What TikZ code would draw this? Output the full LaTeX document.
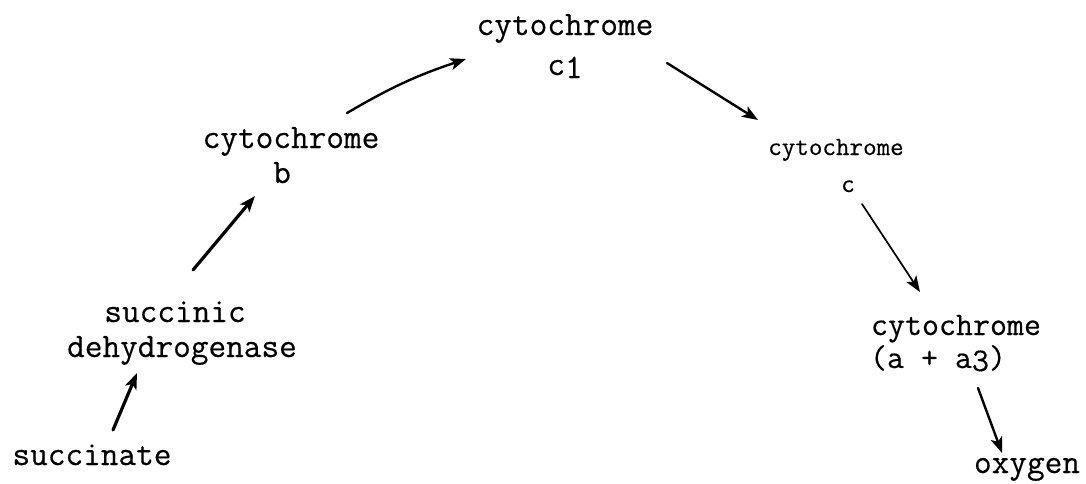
\documentclass[tikz,border=0pt]{standalone}
\usepackage{fontspec}
\newfontfamily\tw{Latin Modern Mono}[FakeBold=0.4]
\usetikzlibrary{arrows.meta,calc}
\newcommand{\lowr}[1]{\raisebox{-3pt}{#1}}
\tikzset{
  lbl/.style={inner sep=0pt, anchor=base, font=\tw\fontsize{34.3}{35}\selectfont},
  arr/.style={-{Stealth[length=16pt,width=12pt,inset=4pt]}, line width=2.4pt, line cap=round},
  thick arr/.style={arr, line width=3.2pt},
  thin arr/.style={arr, line width=1.7pt}
}
\begin{document}
\begin{tikzpicture}[x=1pt,y=-1pt]
\useasboundingbox (0,0) rectangle (1086,483);
\node[lbl] (succ) at (92,465) {succinate};
\node[lbl] (dehyd) at (182,322) {\begin{tabular}[t]{@{}c@{}}succinic\hspace*{14pt}\\dehydrogenase\end{tabular}};
\node[lbl] (cytb) at (291,148) {\begin{tabular}[t]{@{}c@{}}cytochrome\\b\hspace*{18pt}\end{tabular}};
\node[lbl, font=\tw\fontsize{34.3}{40}\selectfont] (cytc1) at (565,35) {\begin{tabular}[t]{@{}c@{}}cytochrome\\c\lowr{1}\end{tabular}};
\node[lbl, font=\tw\fontsize{26.3}{37}\selectfont] (cytc) at (836,155) {\begin{tabular}[t]{@{}c@{}}cytochrome\\\hspace*{24pt}c\end{tabular}};
\node[lbl, font=\tw\fontsize{33}{33}\selectfont] (cyta) at (956,335) {\begin{tabular}[t]{@{}c@{}}cytochrome\\(a + a\lowr{3})\hspace*{36pt}\end{tabular}};
\node[lbl] (oxy) at (1027,473) {oxygen};

\draw[thick arr] ($(succ.base)+(21,-35)$) -- ($(dehyd.base)+(-45,51)$);
\draw[thick arr] ($(dehyd.base)+(11,-52)$) -- ($(cytb.base)+(-36,48)$);
\draw[arr] ($(cytb.base)+(56,-35)$) to[bend left=6] ($(cytc1.base)+(-99,24)$);
\draw[arr] ($(cytc1.base)+(102,28)$) -- ($(cytc.base)+(-78,-35)$);
\draw[thin arr] ($(cytc.base)+(26,49)$) -- ($(cyta.base)+(-36,-43)$);
\draw[arr] ($(cyta.base)+(22,53)$) -- ($(oxy.base)+(-25,-20)$);
\end{tikzpicture}
\end{document}
